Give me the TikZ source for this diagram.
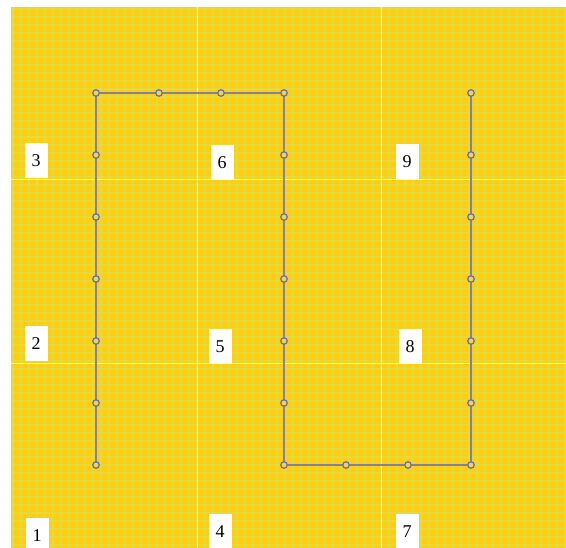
\documentclass[tikz,border=0pt]{standalone}
\usepackage{fontspec}
\setmainfont{Liberation Serif}
\begin{document}
\begin{tikzpicture}[x=1pt,y=-1pt,
  lbl/.style={fill=white,inner sep=0pt,minimum width=23pt,minimum height=35pt,font=\fontsize{18}{18}\selectfont},
  pathline/.style={draw=pathc,line width=2.4pt},
  mk/.style={draw=mkc,line width=1.2pt,fill=mkf,circle,inner sep=0pt,minimum size=6.5pt}]
\definecolor{bgy}{RGB}{255,206,18}
\definecolor{gridg}{RGB}{222,222,70}
\definecolor{pathc}{RGB}{128,128,172}
\definecolor{mkc}{RGB}{105,105,185}
\definecolor{mkf}{RGB}{235,215,80}
\useasboundingbox (0,0) rectangle (566,548);
\fill[white] (0,0) rectangle (566,548);
\fill[bgy] (11,7) rectangle (566,548);
\begin{scope}
\clip (11,7) rectangle (566,548);
\foreach \i in {0,...,70} {
  \draw[gridg,line width=2pt,opacity=0.7] ({13+8*\i},7) -- ({13+8*\i},548);
  \draw[gridg,line width=2pt,opacity=0.7] (11,{9+8*\i}) -- (566,{9+8*\i});
}
\draw[white,line width=1pt,opacity=0.8] (197,7) -- (197,548);
\draw[white,line width=1pt,opacity=0.8] (381,7) -- (381,548);
\draw[white,line width=1pt,opacity=0.8] (11,180) -- (566,180);
\draw[white,line width=1pt,opacity=0.8] (11,364) -- (566,364);
\end{scope}
% labels
\node[lbl] (n3) at (36,161) {3};
\node[lbl] (n6) at (222,163) {6};
\node[lbl] (n9) at (407,162) {9};
\node[lbl] (n2) at (36,344) {2};
\node[lbl] (n5) at (220,347) {5};
\node[lbl] (n8) at (410,347) {8};
\node[lbl] (n1) at (37,536) {1};
\node[lbl] (n4) at (220,532) {4};
\node[lbl] (n7) at (407,532) {7};
% path points
\coordinate (a1) at (96,465);
\coordinate (a2) at (96,403);
\coordinate (a3) at (96,341);
\coordinate (a4) at (96,279);
\coordinate (a5) at (96,217);
\coordinate (a6) at (96,155);
\coordinate (a7) at (96,93);
\coordinate (b1) at (159,93);
\coordinate (b2) at (221,93);
\coordinate (c1) at (284,93);
\coordinate (c2) at (284,155);
\coordinate (c3) at (284,217);
\coordinate (c4) at (284,279);
\coordinate (c5) at (284,341);
\coordinate (c6) at (284,403);
\coordinate (c7) at (284,465);
\coordinate (d1) at (346,465);
\coordinate (d2) at (408,465);
\coordinate (e1) at (471,465);
\coordinate (e2) at (471,403);
\coordinate (e3) at (471,341);
\coordinate (e4) at (471,279);
\coordinate (e5) at (471,217);
\coordinate (e6) at (471,155);
\coordinate (e7) at (471,93);
\draw[pathline] (a1) -- (a7) -- (c1) -- (c7) -- (e1) -- (e7);
\foreach \p in {a1,a2,a3,a4,a5,a6,a7,b1,b2,c1,c2,c3,c4,c5,c6,c7,d1,d2,e1,e2,e3,e4,e5,e6,e7}
  \node[mk] at (\p) {};
\end{tikzpicture}
\end{document}
